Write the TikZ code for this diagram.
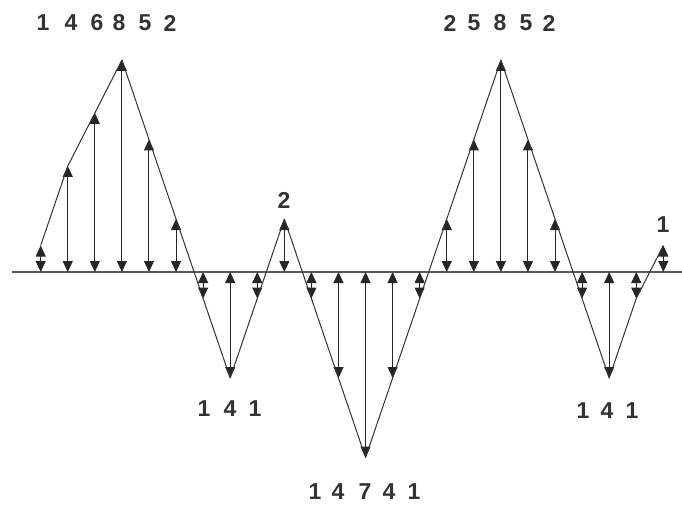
\documentclass[tikz,border=0pt]{standalone}
\usepackage{fontspec}
\setmainfont{Liberation Sans}
\usetikzlibrary{arrows.meta}
\begin{document}
\begin{tikzpicture}[x=1pt,y=-1pt,
  stem/.style={line width=1pt, draw=black!85, {Triangle[length=11pt,width=10pt]}-{Triangle[length=11pt,width=10pt]}},
  wave/.style={line width=1pt, draw=black!80, line join=round},
  axisline/.style={line width=1.2pt, draw=black!65},
  lab/.style={font=\fontsize{23}{23}\selectfont\bfseries, text=black!80, inner sep=0pt}]
\useasboundingbox (0,0) rectangle (682,505);
\draw[axisline] (12,272) -- (682,272);
\foreach \v [count=\i from 0] in {1,4,6,8,5,2,-1,-4,-1,2,-1,-4,-7,-4,-1,2,5,8,5,2,-1,-4,-1,1} {
  \coordinate (b\i) at ({40.7+27.07*\i},272);
  \coordinate (t\i) at ({40.7+27.07*\i},{272-26.5*\v});
  \draw[stem] (b\i) -- (t\i);
}
\draw[wave] (t0) \foreach \i in {1,...,23} { -- (t\i) };
% labels
\foreach \d/\x [count=\i] in {1/43,4/71,6/97,8/119,5/145,2/170}
  \node[lab] (la\i) at (\x,23) {\d};
\foreach \d/\x [count=\i] in {2/450,5/474,8/500,5/526,2/549}
  \node[lab] (lb\i) at (\x,23) {\d};
\foreach \d/\x [count=\i] in {1/204,4/230,1/255}
  \node[lab] (lc\i) at (\x,409) {\d};
\foreach \d/\x [count=\i] in {1/315,4/338,7/365,4/389,1/414}
  \node[lab] (ld\i) at (\x,492) {\d};
\foreach \d/\x [count=\i] in {1/583,4/607,1/632}
  \node[lab] (le\i) at (\x,411) {\d};
\node[lab] (lf) at (284,200) {2};
\node[lab] (lg) at (663,225) {1};
\end{tikzpicture}
\end{document}
